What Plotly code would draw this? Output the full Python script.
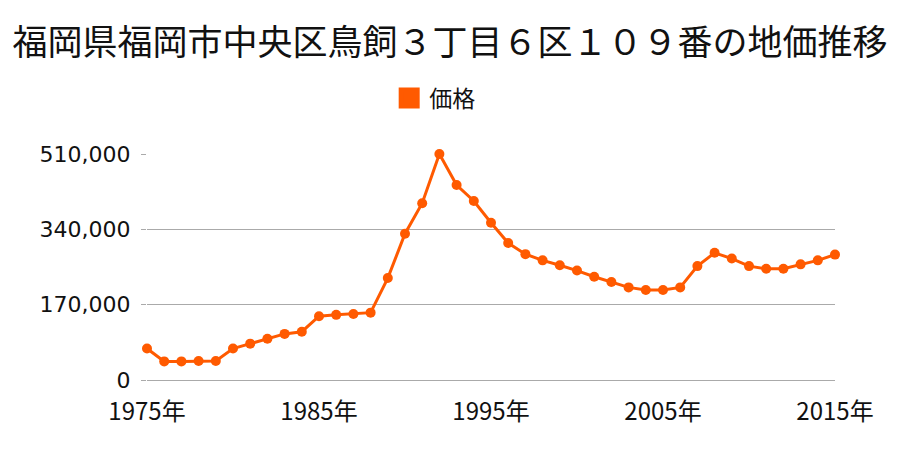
import plotly.graph_objects as go

title_text = "福岡県福岡市中央区鳥飼３丁目６区１０９番の地価推移"
series_name = "価格"
years = list(range(1975, 2016))
prices = [71000, 42000, 42000, 43000, 43000, 71000, 82000, 93000, 104000, 109000,
          144000, 147000, 149000, 152000, 230000, 330000, 399000, 510000, 440000, 404000,
          355000, 309000, 284000, 270000, 259000, 247000, 233000, 221000, 209000, 203000,
          203000, 209000, 257000, 287000, 274000, 257000, 251000, 251000, 261000, 270000,
          283000]
x_tickvals = [1975, 1985, 1995, 2005, 2015]
x_ticktext = ["1975年", "1985年", "1995年", "2005年", "2015年"]
y_tickvals = [0, 170000, 340000, 510000]

color = "#ff5a00"
cjk = "Noto Sans CJK JP"

fig = go.Figure()
fig.add_trace(go.Scatter(
    x=years, y=prices, mode="lines+markers", name=series_name,
    line=dict(color=color, width=3),
    marker=dict(color=color, size=10),
    cliponaxis=False, showlegend=False,
))
fig.add_trace(go.Scatter(
    x=[None], y=[None], mode="markers", name=series_name,
    marker=dict(color=color, size=16, symbol="square",
                line=dict(color=color, width=5)),
    showlegend=True,
))

fig.update_layout(
    width=900, height=450,
    margin=dict(l=147, r=65, t=154, b=70),
    paper_bgcolor="white", plot_bgcolor="white",
    title=dict(text=title_text, x=0.5, xanchor="center", y=0.905, yanchor="middle",
               yref="container",
               font=dict(family=cjk, size=35, color="#111111")),
    legend=dict(orientation="h", x=0.352, xanchor="left", y=1.248, yanchor="middle",
                font=dict(family=cjk, size=23, color="#111111"),
                bgcolor="rgba(0,0,0,0)"),
    xaxis=dict(range=[1975, 2015], tickvals=x_tickvals, ticktext=x_ticktext,
               showgrid=False, zeroline=False, showline=False, ticks="",
               ticklabelstandoff=15,
               tickfont=dict(family=cjk, size=24, color="#111111")),
    yaxis=dict(range=[0, 510000], tickvals=y_tickvals, tickformat=",",
               showgrid=True, gridcolor="#aaaaaa", gridwidth=1,
               zeroline=True, zerolinecolor="#aaaaaa", zerolinewidth=1,
               showline=False, ticks="outside", ticklen=5, tickcolor="#aaaaaa",
               ticklabelstandoff=6,
               tickfont=dict(family="DejaVu Sans", size=22, color="#111111")),
)
fig.write_html("out.html")
